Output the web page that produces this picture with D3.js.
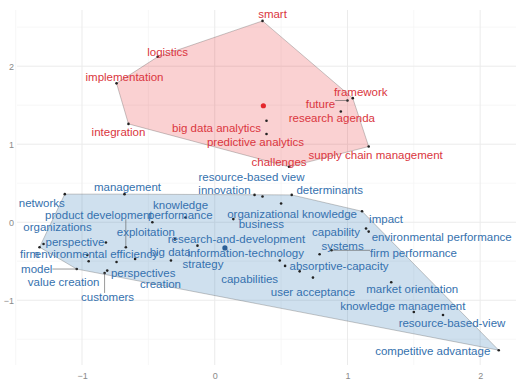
<!DOCTYPE html>
<html>
<head>
<meta charset="utf-8">
<script src="https://cdn.jsdelivr.net/npm/d3@7"></script>
<style>
  body { margin: 0; background: #fff; }
  svg { display: block; }
</style>
</head>
<body>
<svg id="chart" width="516" height="381"></svg>
<script>
// Cluster 1 (red): terms and their coordinates on the two map dimensions
const redTerms = ["smart", "logistics", "implementation", "integration", "big data analytics",
  "predictive analytics", "framework", "future", "research agenda", "supply chain management", "challenges"];
const redX = [0.36, -0.43, -0.74, -0.65, 0.39, 0.39, 1.04, 1.00, 0.95, 1.16, 0.56];
const redY = [2.58, 2.12, 1.78, 1.26, 1.30, 1.13, 1.59, 1.56, 1.42, 0.97, 0.71];

// Cluster 2 (blue)
const blueTerms = ["networks", "management", "innovation", "resource-based view", "determinants",
  "organizational knowledge", "impact", "knowledge", "performance", "product development",
  "business", "organizations", "perspective", "exploitation", "research-and-development",
  "firm", "environmental efficiency", "model", "value creation", "customers", "perspectives",
  "creation", "big data", "strategy", "information-technology", "systems", "capability",
  "environmental performance", "firm performance", "capabilities", "absorptive-capacity",
  "user acceptance", "market orientation", "knowledge management", "resource-based-view",
  "competitive advantage"];
const blueX = [-1.13, -0.68, 0.30, 0.36, 0.58, 0.50, 1.11, -0.22, -0.47, -0.67,
  0.14, -1.29, -0.82, -0.30, -0.13, -1.32, -0.96, -1.04, -0.95, -0.83, -0.81,
  -0.74, -0.60, -0.33, 0.49, 0.79, 1.14, 1.16, 0.88, 0.64, 0.53,
  0.74, 1.33, 1.50, 1.72, 2.14];
const blueY = [0.36, 0.36, 0.35, 0.33, 0.35, 0.24, 0.14, 0.06, 0.00, -0.32,
  0.04, -0.28, -0.26, -0.22, -0.30, -0.32, -0.42, -0.60, -0.50, -0.65, -0.62,
  -0.51, -0.47, -0.49, -0.49, -0.41, -0.08, -0.12, -0.36, -0.63, -0.56,
  -0.71, -0.77, -1.15, -1.19, -1.64];

const xTicks = [-1, 0, 1, 2];
const yTicks = [-1, 0, 1, 2];

// Label placement (pixel nudges from each point) and leader-line flags
const redNudge = [[10,-7],[10,-5],[8,-6],[-10,8],[-50,7],[-11,8],[8,-6],[-27,3],[-9,7],[7,8],[-10,-5]];
const redLeader = ["future"];
const blueNudge = [[-23,9],[3,-7],[-30,-5],[-11,-19],[38,-5],[11,10],[24,8],[-5,-13],[28,-7],[-27,-32],
  [28,5],[14,-17],[-31,-1],[-29,-7],[39,-7],[-10,7],[9,-1],[-40,0],[-25,21],[3,24],[36,2],
  [44,22],[35,-7],[32,4],[-34,-7],[23,-8],[-30,4],[73,5],[82,3],[-50,8],[54,0],
  [0,14],[21,7],[-11,-6],[9,8],[-66,1]];
const blueLeader = ["product development", "model", "customers", "firm performance"];

const W = 516, H = 381;
const panel = { left: 17, right: 516, top: 10, bottom: 365 };
const x = d3.scaleLinear().domain([-1.49, 2.27]).range([panel.left, panel.right]);
const y = d3.scaleLinear().domain([-1.83, 2.72]).range([panel.bottom, panel.top]);

const svg = d3.select("#chart");
svg.append("rect").attr("width", W).attr("height", H).attr("fill", "#fff");

// Grid: minor lines at halves, major at integers
const minorX = d3.range(-1.5, 2.3, 1), minorY = d3.range(-1.5, 2.7, 1);
const grid = svg.append("g");
grid.selectAll(".vminor").data(minorX).join("line")
  .attr("x1", d => x(d)).attr("x2", d => x(d)).attr("y1", panel.top).attr("y2", panel.bottom)
  .attr("stroke", "#f3f3f3").attr("stroke-width", 0.7);
grid.selectAll(".hminor").data(minorY).join("line")
  .attr("y1", d => y(d)).attr("y2", d => y(d)).attr("x1", panel.left).attr("x2", panel.right)
  .attr("stroke", "#f3f3f3").attr("stroke-width", 0.7);
grid.selectAll(".vmajor").data(xTicks).join("line")
  .attr("x1", d => x(d)).attr("x2", d => x(d)).attr("y1", panel.top).attr("y2", panel.bottom)
  .attr("stroke", "#ebebeb").attr("stroke-width", 1);
grid.selectAll(".hmajor").data(yTicks).join("line")
  .attr("y1", d => y(d)).attr("y2", d => y(d)).attr("x1", panel.left).attr("x2", panel.right)
  .attr("stroke", "#ebebeb").attr("stroke-width", 1);

// Axis tick labels via d3 axes, with the domain line and ticks hidden
const xAxis = svg.append("g").attr("transform", `translate(0,${panel.bottom})`)
  .call(d3.axisBottom(x).tickValues(xTicks).tickFormat(d3.format("d")).tickSize(0).tickPadding(8));
const yAxis = svg.append("g").attr("transform", `translate(${panel.left},0)`)
  .call(d3.axisLeft(y).tickValues(yTicks).tickFormat(d3.format("d")).tickSize(0).tickPadding(3));
[xAxis, yAxis].forEach(a => {
  a.select(".domain").remove();
  a.selectAll("text").attr("fill", "#8a8a8a").style("font-family", "Liberation Sans, Arial, sans-serif").style("font-size", "9px");
});

const clusters = [
  { terms: redTerms, xs: redX, ys: redY, nudge: redNudge, leader: redLeader,
    fill: "#E41A1C", fillOpacity: 0.2, text: "#da3640", center: "#e4262c" },
  { terms: blueTerms, xs: blueX, ys: blueY, nudge: blueNudge, leader: blueLeader,
    fill: "#377EB8", fillOpacity: 0.24, text: "#3571ae", center: "#2c5f96" }
];

clusters.forEach(c => {
  c.pts = c.terms.map((t, i) => ({ term: t, px: x(c.xs[i]), py: y(c.ys[i]), n: c.nudge[i] }));
});

// Convex hulls of each cluster
clusters.forEach(c => {
  const hull = d3.polygonHull(c.pts.map(p => [p.px, p.py]));
  svg.append("path")
    .attr("d", "M" + hull.join("L") + "Z")
    .attr("fill", c.fill).attr("fill-opacity", c.fillOpacity)
    .attr("stroke", "#555").attr("stroke-opacity", 0.55).attr("stroke-width", 0.6);
});

// Term points and cluster centroids
clusters.forEach(c => {
  svg.append("g").selectAll("circle").data(c.pts).join("circle")
    .attr("cx", d => d.px).attr("cy", d => d.py).attr("r", 1.3).attr("fill", "#222");
  svg.append("circle")
    .attr("cx", x(d3.mean(c.xs))).attr("cy", y(d3.mean(c.ys)))
    .attr("r", 2.6).attr("fill", c.center);
});

// Term labels with leader lines where the label sits away from its point
clusters.forEach(c => {
  const g = svg.append("g");
  c.pts.forEach(p => {
    const t = g.append("text")
      .attr("x", p.px + p.n[0]).attr("y", p.py + p.n[1])
      .attr("dy", "0.35em").attr("text-anchor", "middle")
      .attr("fill", c.text)
      .style("font-family", "Liberation Sans, Arial, sans-serif")
      .style("font-size", "11.5px")
      .text(p.term);
    if (c.leader.includes(p.term)) {
      const b = t.node().getBBox();
      const lx = Math.max(b.x, Math.min(p.px, b.x + b.width));
      const ly = Math.max(b.y + 2, Math.min(p.py, b.y + b.height - 2));
      g.insert("line", "text")
        .attr("x1", p.px).attr("y1", p.py).attr("x2", lx).attr("y2", ly)
        .attr("stroke", "#555").attr("stroke-width", 0.6);
    }
  });
});
</script>
</body>
</html>
